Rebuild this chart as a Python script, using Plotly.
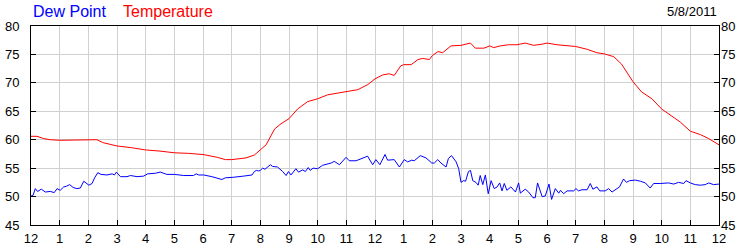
import plotly.graph_objects as go

# ---- data (hours after midnight, degrees F) ----
temp_hours = [0, 0.21, 0.44, 0.67, 1.0, 1.5, 2.0, 2.15, 2.3, 2.5, 3.0, 3.5, 4.0, 4.5, 5.0, 5.5,
              6.0, 6.5, 6.78, 7.0, 7.3, 7.5, 7.79, 8.0, 8.2, 8.5, 8.72, 9.0, 9.3, 9.65, 10.0,
              10.35, 10.7, 11.0, 11.4, 11.75, 12.0, 12.27, 12.5, 12.67, 12.9, 13.0, 13.26, 13.5,
              13.66, 13.9, 14.0, 14.2, 14.36, 14.65, 15.0, 15.33, 15.5, 15.8, 16.0, 16.14, 16.37,
              16.66, 16.95, 17.24, 17.53, 17.83, 18.0, 18.35, 18.7, 19.0, 19.4, 19.74, 20.0,
              20.33, 20.6, 20.9, 21.0, 21.3, 21.66, 22.0, 22.36, 22.65, 23.0, 23.35, 23.64, 24.0]
temperature = [60.6, 60.6, 60.2, 60.0, 59.9, 59.9, 59.9, 60.0, 60.0, 59.5, 58.9, 58.6, 58.2, 58.0,
               57.7, 57.6, 57.4, 56.9, 56.5, 56.5, 56.7, 56.8, 57.3, 58.2, 59.1, 61.9, 62.8, 63.7,
               65.4, 66.7, 67.2, 67.9, 68.2, 68.5, 68.8, 69.7, 70.7, 71.4, 71.6, 71.3, 73.0, 73.2,
               73.2, 74.1, 74.3, 74.1, 74.8, 75.5, 75.3, 76.5, 76.6, 77.0, 76.1, 76.1, 76.5, 76.2,
               76.5, 76.7, 76.7, 77.0, 76.6, 76.8, 77.0, 76.7, 76.5, 76.4, 75.9, 75.3, 75.1, 74.6,
               73.3, 71.0, 70.2, 68.4, 67.2, 65.4, 64.2, 63.1, 61.5, 60.9, 60.2, 59.1]

dew_hours = [0, 0.07, 0.15, 0.23, 0.36, 0.5, 0.67, 0.81, 0.91, 1.02, 1.14, 1.23, 1.35, 1.47, 1.6,
             1.72, 1.84, 1.93, 2.02, 2.13, 2.22, 2.33, 2.44, 2.65, 2.83, 2.91, 2.98, 3.12, 3.35,
             3.47, 3.7, 3.93, 4.07, 4.34, 4.51, 4.74, 5.01, 5.33, 5.67, 5.76, 5.85, 6.02, 6.31,
             6.66, 6.78, 7.07, 7.19, 7.42, 7.71, 7.79, 7.86, 7.94, 8.0, 8.08, 8.16, 8.35, 8.43,
             8.6, 8.78, 8.9, 8.98, 9.07, 9.24, 9.33, 9.48, 9.57, 9.67, 9.74, 9.84, 10.0, 10.17,
             10.35, 10.47, 10.58, 10.76, 10.99, 11.1, 11.34, 11.57, 11.74, 11.92, 12.03, 12.17,
             12.35, 12.44, 12.67, 12.85, 13.02, 13.14, 13.28, 13.37, 13.47, 13.58, 13.78, 13.98,
             14.07, 14.19, 14.3, 14.48, 14.56, 14.67, 14.83, 14.92, 15.0, 15.09, 15.16, 15.26,
             15.33, 15.41, 15.52, 15.6, 15.67, 15.76, 15.85, 15.95, 16.05, 16.16, 16.26, 16.35,
             16.43, 16.51, 16.6, 16.74, 16.9, 17.01, 17.07, 17.24, 17.36, 17.51, 17.59, 17.67,
             17.83, 17.94, 18.07, 18.16, 18.29, 18.41, 18.47, 18.58, 18.7, 18.93, 19.01, 19.1,
             19.22, 19.4, 19.51, 19.6, 19.74, 19.84, 20.03, 20.15, 20.27, 20.38, 20.53, 20.67,
             20.77, 20.88, 21.08, 21.26, 21.43, 21.6, 21.72, 21.95, 22.24, 22.42, 22.59, 22.77,
             22.85, 23.0, 23.17, 23.35, 23.52, 23.64, 23.81, 24.0]
dew_point = [50.1, 50.2, 51.4, 50.9, 51.3, 50.8, 50.9, 50.7, 51.4, 51.1, 51.7, 51.8, 52.1, 51.6,
             51.4, 51.5, 52.7, 52.4, 52.0, 52.3, 53.3, 54.2, 53.9, 53.8, 54.0, 53.8, 54.3, 53.5,
             53.5, 53.7, 53.5, 53.6, 54.0, 54.1, 54.3, 53.9, 53.9, 53.7, 53.7, 54.0, 53.8, 53.8,
             53.5, 53.0, 53.3, 53.4, 53.5, 53.6, 53.8, 54.4, 54.6, 54.5, 54.6, 55.0, 54.8, 55.6,
             55.3, 55.2, 54.4, 53.7, 54.4, 53.8, 54.9, 54.3, 54.7, 54.4, 55.1, 54.6, 55.0, 54.9,
             55.5, 55.7, 55.9, 56.2, 55.6, 56.9, 56.3, 56.3, 56.7, 57.1, 55.6, 56.5, 55.6, 57.4,
             56.4, 56.5, 55.2, 56.5, 56.1, 56.4, 56.3, 56.7, 57.2, 56.8, 55.9, 55.9, 56.5, 55.9,
             55.2, 56.7, 57.2, 56.1, 54.9, 52.5, 52.8, 52.7, 54.4, 54.6, 52.8, 52.5, 52.0, 53.7,
             52.1, 53.8, 50.5, 52.8, 51.4, 51.7, 52.4, 51.0, 52.3, 51.1, 51.7, 50.8, 52.4, 50.6,
             51.3, 50.8, 49.8, 49.8, 52.4, 50.0, 50.1, 52.2, 49.5, 51.4, 50.6, 51.1, 50.5, 51.0,
             51.0, 51.4, 51.0, 51.2, 51.2, 52.3, 51.3, 51.7, 51.0, 51.0, 51.4, 50.8, 51.2, 51.7,
             53.1, 52.5, 52.8, 52.9, 52.7, 52.4, 51.5, 52.3, 52.3, 52.4, 52.2, 52.5, 52.3, 52.8,
             52.4, 52.1, 52.0, 52.1, 52.4, 52.1, 52.2]

hour_ticks = list(range(0, 25))
hour_labels = ["12", "1", "2", "3", "4", "5", "6", "7", "8", "9", "10", "11",
               "12", "1", "2", "3", "4", "5", "6", "7", "8", "9", "10", "11", "12"]
y_ticks = [45, 50, 55, 60, 65, 70, 75, 80]
date_label = "5/8/2011"

TICK_FONT = dict(family="Liberation Sans, Arial", size=13, color="#000000")
GRID = "#d0d0d0"

fig = go.Figure()
fig.add_trace(go.Scatter(x=dew_hours, y=dew_point, mode="lines", name="Dew Point",
                         line=dict(color="#0000ff", width=1)))
fig.add_trace(go.Scatter(x=temp_hours, y=temperature, mode="lines", name="Temperature",
                         line=dict(color="#ff0000", width=1)))
# invisible trace to activate right axis
fig.add_trace(go.Scatter(x=[0], y=[45], yaxis="y2", mode="markers",
                         marker=dict(opacity=0), showlegend=False, hoverinfo="skip"))

fig.update_layout(
    width=750, height=250,
    margin=dict(l=31, r=31, t=26, b=25),
    paper_bgcolor="white", plot_bgcolor="white",
    showlegend=False,
    xaxis=dict(range=[0, 24], tickvals=hour_ticks, ticktext=hour_labels, automargin=False,
               showgrid=True, gridcolor=GRID, gridwidth=1, zeroline=False,
               showline=True, linecolor="black", linewidth=1, mirror=True,
               ticks="inside", ticklen=5, tickcolor="black", tickfont=TICK_FONT,
               ticklabelstandoff=1),
    yaxis=dict(range=[45, 80], tickvals=y_ticks, showgrid=True, gridcolor=GRID, gridwidth=1,
               automargin=False,
               zeroline=False, showline=True, linecolor="black", linewidth=1, mirror=True,
               ticks="inside", ticklen=5, tickcolor="black", tickfont=TICK_FONT,
               ticklabelstandoff=8),
    yaxis2=dict(range=[45, 80], tickvals=y_ticks, overlaying="y", side="right",
                automargin=False,
                showgrid=False, zeroline=False, showline=False,
                ticks="inside", ticklen=5, tickcolor="black", tickfont=TICK_FONT,
                ticklabelstandoff=1),
    annotations=[
        dict(text="Dew Point", xref="paper", yref="paper", x=0.0, y=1.075,
             xanchor="left", yanchor="middle", showarrow=False,
             font=dict(family="Liberation Sans, Arial", size=16, color="#0000ff")),
        dict(text="Temperature", xref="paper", yref="paper", x=0.1308, y=1.075,
             xanchor="left", yanchor="middle", showarrow=False,
             font=dict(family="Liberation Sans, Arial", size=16, color="#ff0000")),
        dict(text=date_label, xref="paper", yref="paper", x=1.0, y=1.075,
             xanchor="right", yanchor="middle", showarrow=False,
             font=dict(family="Liberation Sans, Arial", size=13, color="#000000")),
    ],
)

fig.write_html("out.html")
